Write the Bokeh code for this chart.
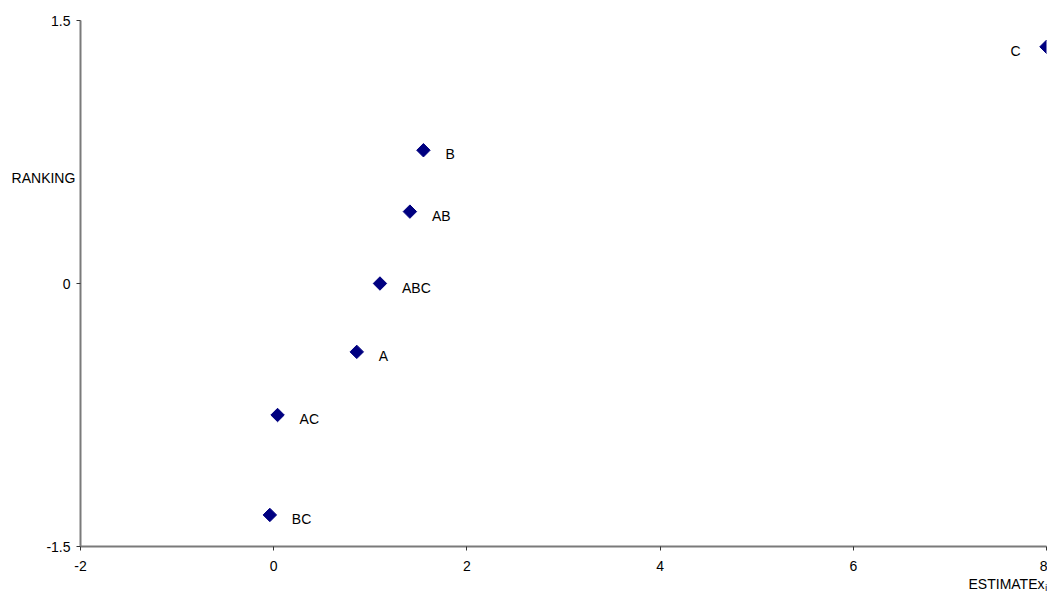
import numpy as np
from bokeh.plotting import figure
from bokeh.models import Range1d, FixedTicker, ColumnDataSource, Title
from bokeh.core.properties import value
from bokeh.embed import file_html
from bokeh.resources import INLINE

# data
effects = ["C", "B", "AB", "ABC", "A", "AC", "BC"]
estimates = [8.0, 1.55, 1.41, 1.10, 0.86, 0.04, -0.04]
rankings = [1.35, 0.76, 0.41, 0.0, -0.39, -0.75, -1.32]

x_ticks = [-2, 0, 2, 4, 6, 8]
y_ticks = [-1.5, 0, 1.5]

FONT = "Liberation Sans"
FS = "14px"

p = figure(width=1047, height=591, output_backend="svg", toolbar_location=None,
           x_range=Range1d(-2, 8), y_range=Range1d(-1.5, 1.5),
           min_border_left=80, min_border_top=20, min_border_bottom=43,
           min_border_right=1)
p.outline_line_color = None
p.xgrid.visible = False
p.ygrid.visible = False
p.background_fill_color = "white"
p.border_fill_color = "white"

for ax in (p.xaxis[0], p.yaxis[0]):
    ax.axis_line_color = "#7a7a7a"
    ax.axis_line_width = 2
    ax.major_tick_line_color = "#333333"
    ax.major_tick_line_width = 1
    ax.major_tick_out = 4
    ax.major_tick_in = 0
    ax.minor_tick_line_color = None
    ax.major_label_text_font = FONT
    ax.major_label_text_font_size = FS
    ax.major_label_text_color = "black"
    ax.axis_label_text_font = FONT
    ax.axis_label_text_font_size = FS
    ax.axis_label_text_font_style = "normal"
    ax.axis_label_text_color = "black"

p.xaxis.ticker = FixedTicker(ticks=x_ticks)
p.yaxis.ticker = FixedTicker(ticks=y_ticks)
p.xaxis.major_label_overrides = {t: str(t) for t in x_ticks}
p.yaxis.major_label_overrides = {t: ("0" if t == 0 else str(t)) for t in y_ticks}
p.xaxis.major_label_standoff = 10
p.yaxis.major_label_standoff = 6

# y-axis title: horizontal, raised above the axis centre with blank lines below it
p.yaxis.axis_label = "RANKING" + "\n " * 11
p.yaxis.axis_label_orientation = "horizontal"
p.yaxis.axis_label_standoff = -32

# x-axis title at the right end, below the tick labels
p.add_layout(Title(text="ESTIMATEx\u2c7c", align="right", text_font=FONT,
                   text_font_size=FS, text_font_style="normal",
                   text_color="black", standoff=0), "below")

src = ColumnDataSource(dict(
    x=estimates, y=rankings, name=effects,
    xo=[-26 if e == "C" else 22 for e in effects],
    al=["right" if e == "C" else "left" for e in effects],
))

p.scatter("x", "y", source=src, marker="square", size=9.5, angle=np.pi / 4,
          fill_color="#000080", line_color="#000080")

p.text("x", "y", text="name", source=src, x_offset="xo", y_offset=4,
       text_align="al", text_baseline="middle",
       text_font=value(FONT), text_font_size=FS, text_color="black")

open("out.html", "w").write(file_html(p, INLINE))
